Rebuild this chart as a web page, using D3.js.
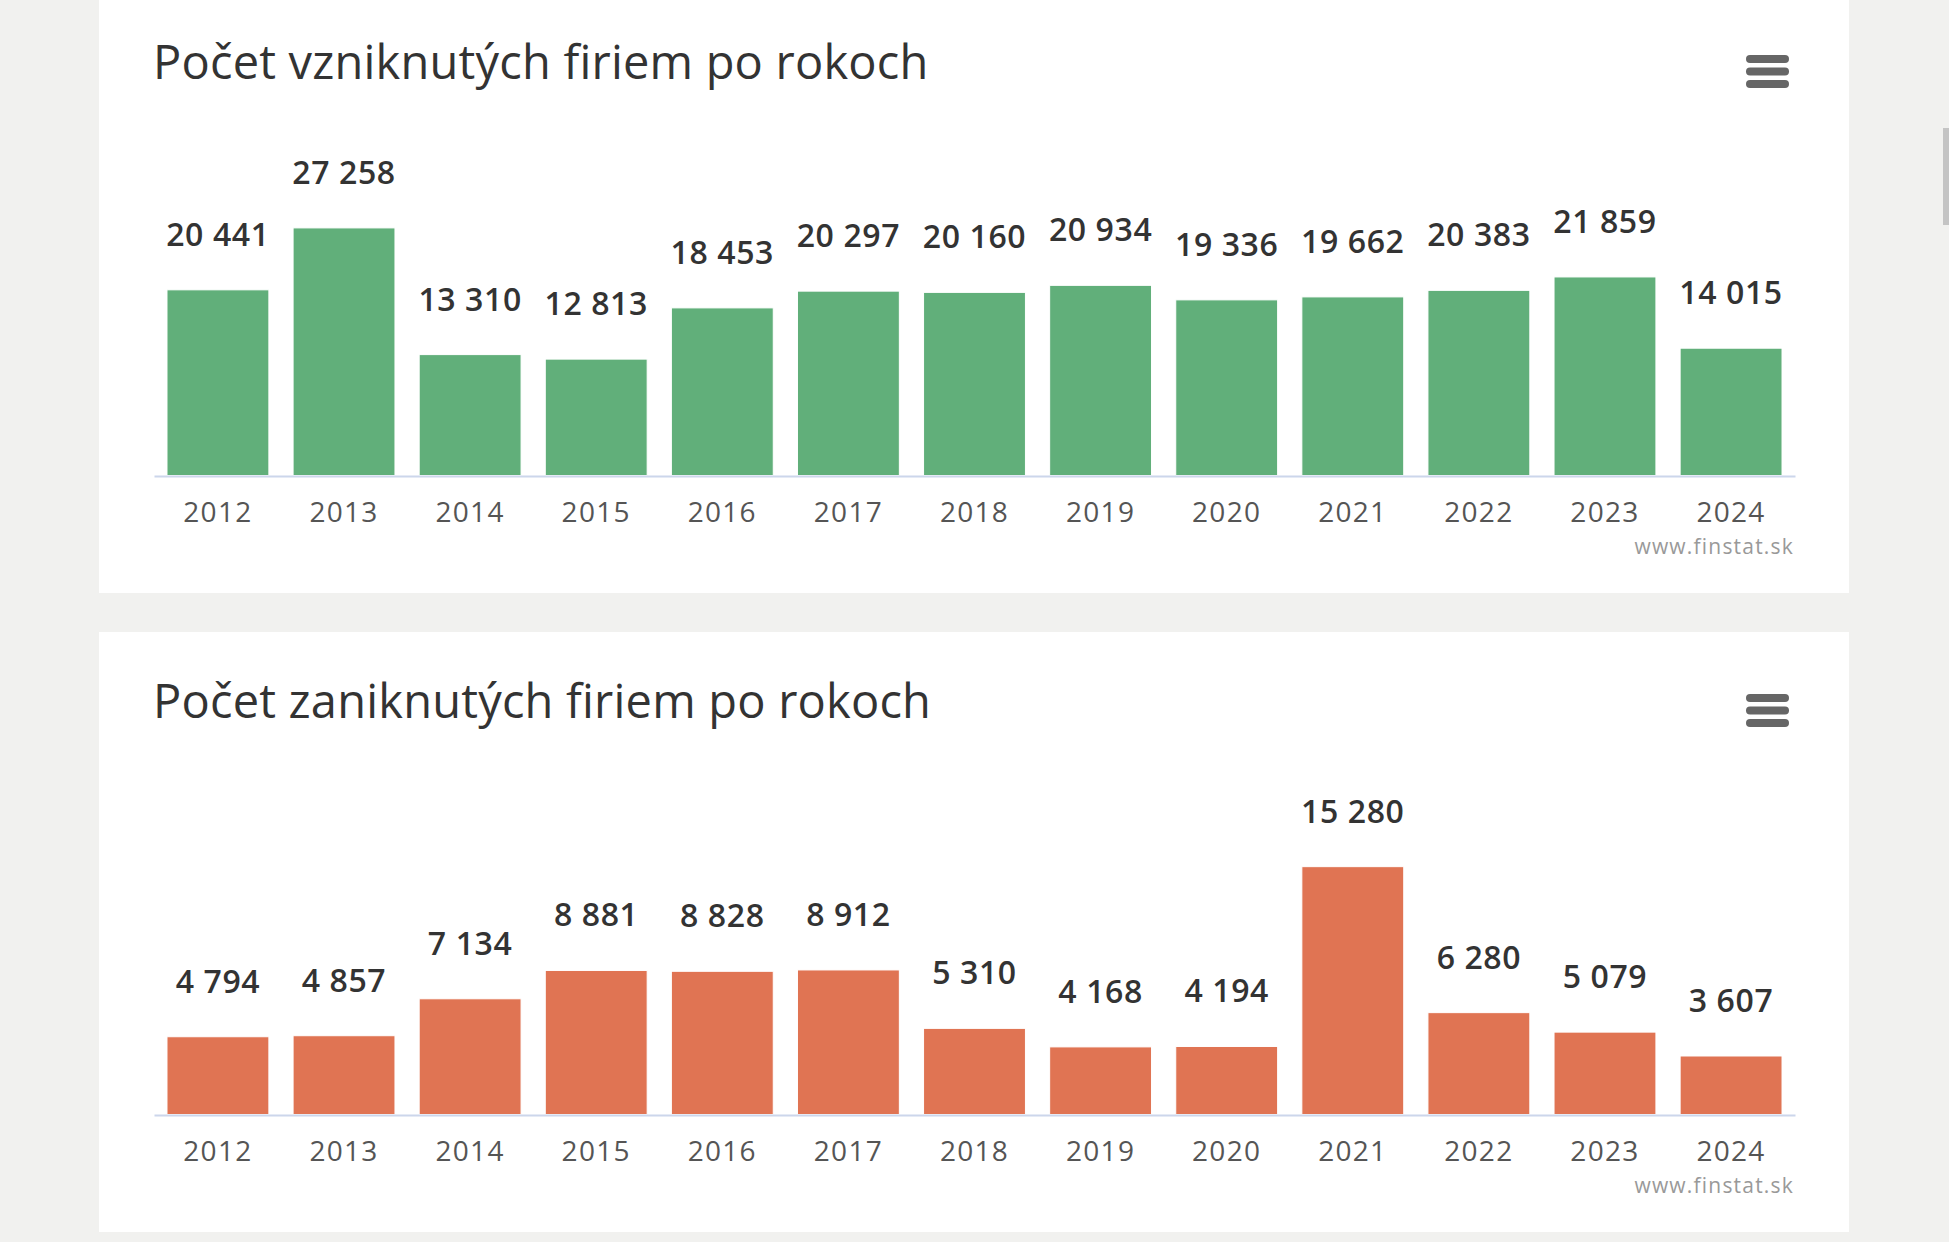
<!DOCTYPE html>
<html>
<head>
<meta charset="utf-8">
<script src="https://cdnjs.cloudflare.com/ajax/libs/d3/7.8.5/d3.min.js"></script>
<style>
  body { margin: 0; background: #f1f1ef; overflow: hidden; }
  text { font-family: "Open Sans", sans-serif; }
</style>
</head>
<body>
<script>
// roky a hodnoty
var years = ["2012", "2013", "2014", "2015", "2016", "2017", "2018", "2019", "2020", "2021", "2022", "2023", "2024"];
var vzniknute = [20441, 27258, 13310, 12813, 18453, 20297, 20160, 20934, 19336, 19662, 20383, 21859, 14015];
var zaniknute = [4794, 4857, 7134, 8881, 8828, 8912, 5310, 4168, 4194, 15280, 6280, 5079, 3607];
var titles = ["Počet vzniknutých firiem po rokoch", "Počet zaniknutých firiem po rokoch"];
var credit = "www.finstat.sk";

var width = 1949, height = 1242;

var svg = d3.select("body")
    .append("svg")
    .attr("width", width)
    .attr("height", height);

// slovensky format cisel - medzera ako oddelovac tisicov
var fmt = d3.formatLocale({ decimal: ",", thousands: " ", grouping: [3], currency: ["", " €"] }).format(",d");

// scrollbar vpravo
svg.append("rect")
    .attr("x", 1943).attr("y", 128)
    .attr("width", 6).attr("height", 97)
    .attr("fill", "#c4c4c4");

function drawChart(offsetY, title, values, maxY, color) {
    var g = svg.append("g").attr("transform", "translate(0," + offsetY + ")");

    // biely panel
    g.append("rect")
        .attr("x", 99).attr("y", -7)
        .attr("width", 1750).attr("height", 600)
        .attr("fill", "#fff");

    g.append("text")
        .attr("x", 153).attr("y", 79)
        .attr("font-size", 47)
        .attr("letter-spacing", 0.2)
        .attr("fill", "#333")
        .text(title);

    // menu ikona
    g.selectAll("rect.menu")
        .data([0, 1, 2])
        .enter().append("rect")
        .attr("class", "menu")
        .attr("x", 1746).attr("y", function(d) { return 55 + d * 12.5; })
        .attr("width", 43).attr("height", 8)
        .attr("rx", 4)
        .attr("fill", "#666");

    var x = d3.scaleBand()
        .domain(years)
        .range([154, 1795])
        .paddingInner(0.192)
        .paddingOuter(0.103);

    var y = d3.scaleLinear()
        .domain([0, maxY])
        .range([475.5, 203]);

    g.selectAll("rect.bar")
        .data(values)
        .enter().append("rect")
        .attr("class", "bar")
        .attr("x", function(d, i) { return x(years[i]); })
        .attr("y", function(d) { return y(d); })
        .attr("width", x.bandwidth())
        .attr("height", function(d) { return y(0) - y(d); })
        .attr("fill", color)
        .attr("stroke", "#fff")
        .attr("stroke-width", 1);

    // os x
    var axis = g.append("g")
        .attr("transform", "translate(0,476)")
        .call(d3.axisBottom(x).tickSize(0).tickPadding(0));
    axis.select(".domain").attr("stroke", "#ccd6eb").attr("stroke-width", 2);
    axis.selectAll("text")
        .attr("dy", null)
        .attr("y", 46)
        .attr("font-size", 28)
        .attr("letter-spacing", 1.3)
        .attr("font-family", "Open Sans")
        .attr("fill", "#555");

    // popisky nad stlpcami
    g.selectAll("text.lbl")
        .data(values)
        .enter().append("text")
        .attr("class", "lbl")
        .attr("x", function(d, i) { return x(years[i]) + x.bandwidth() / 2; })
        .attr("y", function(d) { return y(d) - 44; })
        .attr("text-anchor", "middle")
        .attr("font-size", 32)
        .attr("font-weight", 600)
        .attr("letter-spacing", 0.6)
        .attr("fill", "#333")
        .text(function(d) { return fmt(d); });

    g.append("text")
        .attr("x", 1794).attr("y", 554)
        .attr("text-anchor", "end")
        .attr("font-size", 21)
        .attr("letter-spacing", 1.2)
        .attr("fill", "#999")
        .text(credit);
}

drawChart(0, titles[0], vzniknute, 30000, "#61af7a");
drawChart(639, titles[1], zaniknute, 16800, "#e07453");
</script>
</body>
</html>
